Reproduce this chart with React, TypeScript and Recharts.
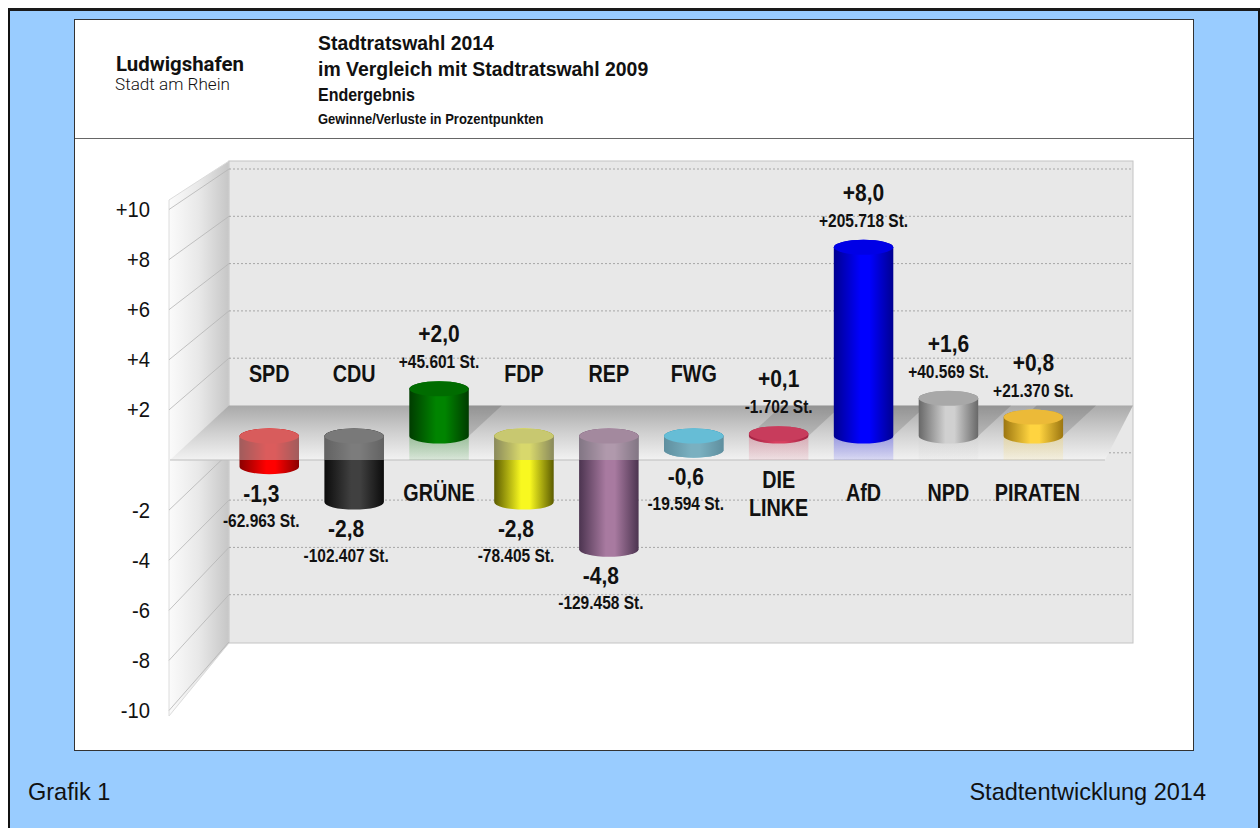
import { BarChart, Bar, XAxis, YAxis, CartesianGrid, LabelList } from "recharts"

const parties = ["SPD", "CDU", "GRÜNE", "FDP", "REP", "FWG", "DIE LINKE", "AfD", "NPD", "PIRATEN"]
const changes = [-1.3, -2.8, 2.0, -2.8, -4.8, -0.6, 0.1, 8.0, 1.6, 0.8]
const changeLabels = ["-1,3", "-2,8", "+2,0", "-2,8", "-4,8", "-0,6", "+0,1", "+8,0", "+1,6", "+0,8"]
const voteLabels = [
  "-62.963 St.",
  "-102.407 St.",
  "+45.601 St.",
  "-78.405 St.",
  "-129.458 St.",
  "-19.594 St.",
  "-1.702 St.",
  "+205.718 St.",
  "+40.569 St.",
  "+21.370 St.",
]
const axisTicks = [10, 8, 6, 4, 2, -2, -4, -6, -8, -10]
const gridTicks = [10, 8, 6, 4, 2, -2, -4, -6, -8]

// body edge, body centre, top face
const palette = [
  ["#8a0000", "#ff0000", "#f80000"],
  ["#0c0c0c", "#404040", "#3a3a3a"],
  ["#003c00", "#008400", "#006c00"],
  ["#5c5c00", "#f8f820", "#d8d828"],
  ["#4c3450", "#a87aa0", "#8e5a84"],
  ["#066686", "#3ca8c8", "#14c2f4"],
  ["#a02040", "#d84060", "#c83c5c"],
  ["#000090", "#0000ff", "#0000e6"],
  ["#686868", "#d0d0d0", "#a8a8a8"],
  ["#9c7610", "#ffd440", "#ecba38"],
]

const data = parties.map((party, i) => ({ party, change: changes[i] }))

const W = 1260
const H = 828
const FONT = '"Liberation Sans", Arial, sans-serif'

// the floor of the 3D box
const FLOOR_BACK = 405.5
const FLOOR_FRONT = 460
const frontY = (v: number) => 460 - 25.05 * v
const backY = (v: number) => 405.5 - 23.65 * v

const layer: React.CSSProperties = { position: "absolute", left: 0, top: 0 }

// the reference's type is squeezed sideways, so text gets a horizontal scale
function TallText({ x, y, size, squeeze, weight = 700, anchor = "middle", children }: any) {
  return (
    <text
      transform={`translate(${x},${y}) scale(${squeeze},1)`}
      fontFamily={FONT}
      fontWeight={weight}
      fontSize={size}
      textAnchor={anchor}
      fill="#111"
    >
      {children}
    </text>
  )
}

function Cylinder(props: any) {
  const { x, y, width, height, index } = props
  const value = changes[index]
  const top = Math.min(y, y + height)
  const bottom = Math.max(y, y + height)
  const zero = value >= 0 ? bottom : top
  const rx = width / 2
  const ry = 7.5
  const [edge, mid, face] = palette[index]
  const cx = x + rx
  const silhouette = `M${x},${top} A${rx},${ry} 0 0 1 ${x + width},${top} L${x + width},${bottom} A${rx},${ry} 0 0 1 ${x},${bottom} Z`

  return (
    <g>
      <defs>
        <linearGradient id={`body${index}`} x1="0" x2="1" y1="0" y2="0">
          <stop offset="0" stopColor={edge} />
          <stop offset="0.45" stopColor={mid} />
          <stop offset="0.6" stopColor={mid} />
          <stop offset="1" stopColor={edge} />
        </linearGradient>
        <linearGradient id={`mirror${index}`} x1="0" x2="0" y1="0" y2="1">
          <stop offset="0" stopColor={mid} stopOpacity={0.28} />
          <stop offset="1" stopColor={mid} stopOpacity={0.1} />
        </linearGradient>
        <clipPath id={`floorClip${index}`}>
          <rect x={x - 2} y={top - 20} width={width + 4} height={Math.max(FLOOR_FRONT - top + 20, 0)} />
        </clipPath>
      </defs>
      {value >= 0 && (
        <>
          <polygon
            points={`${x},${zero} ${x + width},${zero} ${x + width + 33},${FLOOR_BACK} ${x + 33},${FLOOR_BACK}`}
            fill="#000"
            fillOpacity={0.13}
          />
          <rect x={x} y={zero} width={width} height={FLOOR_FRONT - zero} fill={`url(#mirror${index})`} />
        </>
      )}
      <path d={silhouette} fill={`url(#body${index})`} />
      <ellipse cx={cx} cy={top} rx={rx} ry={ry} fill={face} />
      {value < 0 && (
        <path d={silhouette} fill="#b8b8b8" fillOpacity={0.5} clipPath={`url(#floorClip${index})`} />
      )}
    </g>
  )
}

function BarLabels(props: any) {
  const { x, y, width, height, index } = props
  const value = changes[index]
  const top = Math.min(y, y + height)
  const bottom = Math.max(y, y + height)
  const zero = value >= 0 ? bottom : top
  const cx = x + width / 2
  const lift = value >= 0 ? 0 : -8
  const changeY = value >= 0 ? top - 55 : bottom + 26.5
  const voteY = value >= 0 ? top - 26.5 : bottom + 54
  const nameY = value >= 0 ? zero + 57 : zero - 62
  const nameLines = parties[index].split(" ")

  return (
    <g>
      <TallText x={cx + lift} y={changeY + 8.5} size={24} squeeze={0.875}>
        {changeLabels[index]}
      </TallText>
      <TallText x={cx + lift} y={voteY + 6} size={17.5} squeeze={0.885}>
        {voteLabels[index]}
      </TallText>
      {nameLines.length === 1 ? (
        <TallText x={cx + (parties[index] === "PIRATEN" ? 4 : 0)} y={nameY + 8} size={23} squeeze={0.86}>
          {parties[index]}
        </TallText>
      ) : (
        nameLines.map((line, i) => (
          <TallText key={line} x={cx} y={zero + 44 + i * 28 + 8} size={23} squeeze={0.86}>
            {line}
          </TallText>
        ))
      )}
    </g>
  )
}

function AxisTick(props: any) {
  const { x, y, payload } = props
  const v = payload.value
  return (
    <TallText x={x} y={y + 8} size={22} squeeze={0.92} weight={400} anchor="end">
      {v > 0 ? `+${v}` : `${v}`}
    </TallText>
  )
}

export default function App() {
  return (
    <div style={{ position: "fixed", left: 0, top: 0, width: W, height: H, background: "#fff", overflow: "hidden" }}>
      <div
        style={{
          position: "absolute",
          left: 8,
          top: 8,
          width: 1252,
          height: 820,
          boxSizing: "border-box",
          background: "#99ccff",
          borderTop: "3px solid #1a1a1a",
          borderLeft: "2px solid #111",
          borderRight: "2px solid #111",
        }}
      />
      <div
        style={{
          position: "absolute",
          left: 74,
          top: 19,
          width: 1120,
          height: 732,
          boxSizing: "border-box",
          background: "#fff",
          border: "1px solid #333",
        }}
      />
      <div style={{ position: "absolute", left: 75, top: 138, width: 1118, height: 1, background: "#666" }} />

      {/* box walls */}
      <svg width={W} height={H} style={layer}>
        <defs>
          <linearGradient id="sideWall" x1="0" x2="1" y1="0" y2="0">
            <stop offset="0" stopColor="#fbfbfb" />
            <stop offset="0.5" stopColor="#e8e8e8" />
            <stop offset="1" stopColor="#c6c6c6" />
          </linearGradient>
        </defs>
        <polygon points="169,200 229,161 229,643 169,716" fill="url(#sideWall)" stroke="#dcdcdc" />
        <rect x={229} y={161} width={904} height={482} fill="#e8e8e8" stroke="#c4c4c4" />
        {axisTicks.map((t) => (
          <line key={t} x1={229} y1={backY(t)} x2={169} y2={frontY(t)} stroke="#b4b4b4" strokeWidth={0.8} />
        ))}
      </svg>

      {/* dotted lines on the back wall */}
      <div style={layer}>
        <BarChart width={W} height={H} data={data} margin={{ top: 169, bottom: H - 642, left: 229, right: W - 1133 }}>
          <CartesianGrid vertical={false} stroke="#a6a6a6" strokeDasharray="2 2" horizontalValues={gridTicks} />
          <XAxis dataKey="party" hide />
          <YAxis hide domain={[-10, 10]} ticks={gridTicks} allowDataOverflow />
        </BarChart>
      </div>

      {/* floor */}
      <svg width={W} height={H} style={layer}>
        <defs>
          <linearGradient id="floor" x1="0" x2="0" y1="0" y2="1">
            <stop offset="0" stopColor="#a9a9a9" />
            <stop offset="0.5" stopColor="#d0d0d0" />
            <stop offset="1" stopColor="#f2f2f2" />
          </linearGradient>
        </defs>
        <polygon
          points={`229,${FLOOR_BACK} 1133,${FLOOR_BACK} 1105,${FLOOR_FRONT} 170,${FLOOR_FRONT}`}
          fill="url(#floor)"
        />
        <line x1={170} y1={FLOOR_FRONT} x2={1105} y2={FLOOR_FRONT} stroke="#bdbdbd" />
      </svg>

      {/* value axis on the front edge */}
      <div style={layer}>
        <BarChart width={W} height={H} data={data} margin={{ top: 209, bottom: H - 710, left: 109, right: 100 }}>
          <XAxis dataKey="party" hide />
          <YAxis
            domain={[-10, 10]}
            ticks={axisTicks}
            width={60}
            interval={0}
            axisLine={false}
            tickLine={false}
            tickSize={0}
            tickMargin={19}
            tick={<AxisTick />}
            allowDataOverflow
          />
        </BarChart>
      </div>

      {/* cylinders */}
      <div style={layer}>
        <BarChart
          width={W}
          height={H}
          data={data}
          barSize={59.5}
          margin={{ top: 200, bottom: H - 672, left: 226.5, right: W - 1075.5 }}
        >
          <XAxis dataKey="party" hide />
          <YAxis hide domain={[-10, 10]} allowDataOverflow />
          <Bar dataKey="change" isAnimationActive={false} shape={<Cylinder />}>
            <LabelList dataKey="change" content={<BarLabels />} />
          </Bar>
        </BarChart>
      </div>

      {/* header and footer */}
      <svg width={W} height={H} style={layer}>
        <text x={116} y={71} fontFamily="Roboto" fontWeight={700} fontSize={21} textLength={128} lengthAdjust="spacingAndGlyphs" fill="#111">
          Ludwigshafen
        </text>
        <text x={115} y={90} fontFamily="Roboto" fontWeight={300} fontSize={17} textLength={115} lengthAdjust="spacingAndGlyphs" fill="#111">
          Stadt am Rhein
        </text>
        <TallText x={318} y={50} size={21} squeeze={0.925} anchor="start">
          Stadtratswahl 2014
        </TallText>
        <TallText x={318} y={76} size={21} squeeze={0.925} anchor="start">
          im Vergleich mit Stadtratswahl 2009
        </TallText>
        <TallText x={318} y={101} size={18} squeeze={0.89} anchor="start">
          Endergebnis
        </TallText>
        <TallText x={318} y={124} size={14} squeeze={0.93} anchor="start">
          Gewinne/Verluste in Prozentpunkten
        </TallText>
        <TallText x={28} y={800} size={24} squeeze={0.98} weight={400} anchor="start">
          Grafik 1
        </TallText>
        <TallText x={1206} y={800} size={24} squeeze={0.98} weight={400} anchor="end">
          Stadtentwicklung 2014
        </TallText>
      </svg>
    </div>
  )
}
